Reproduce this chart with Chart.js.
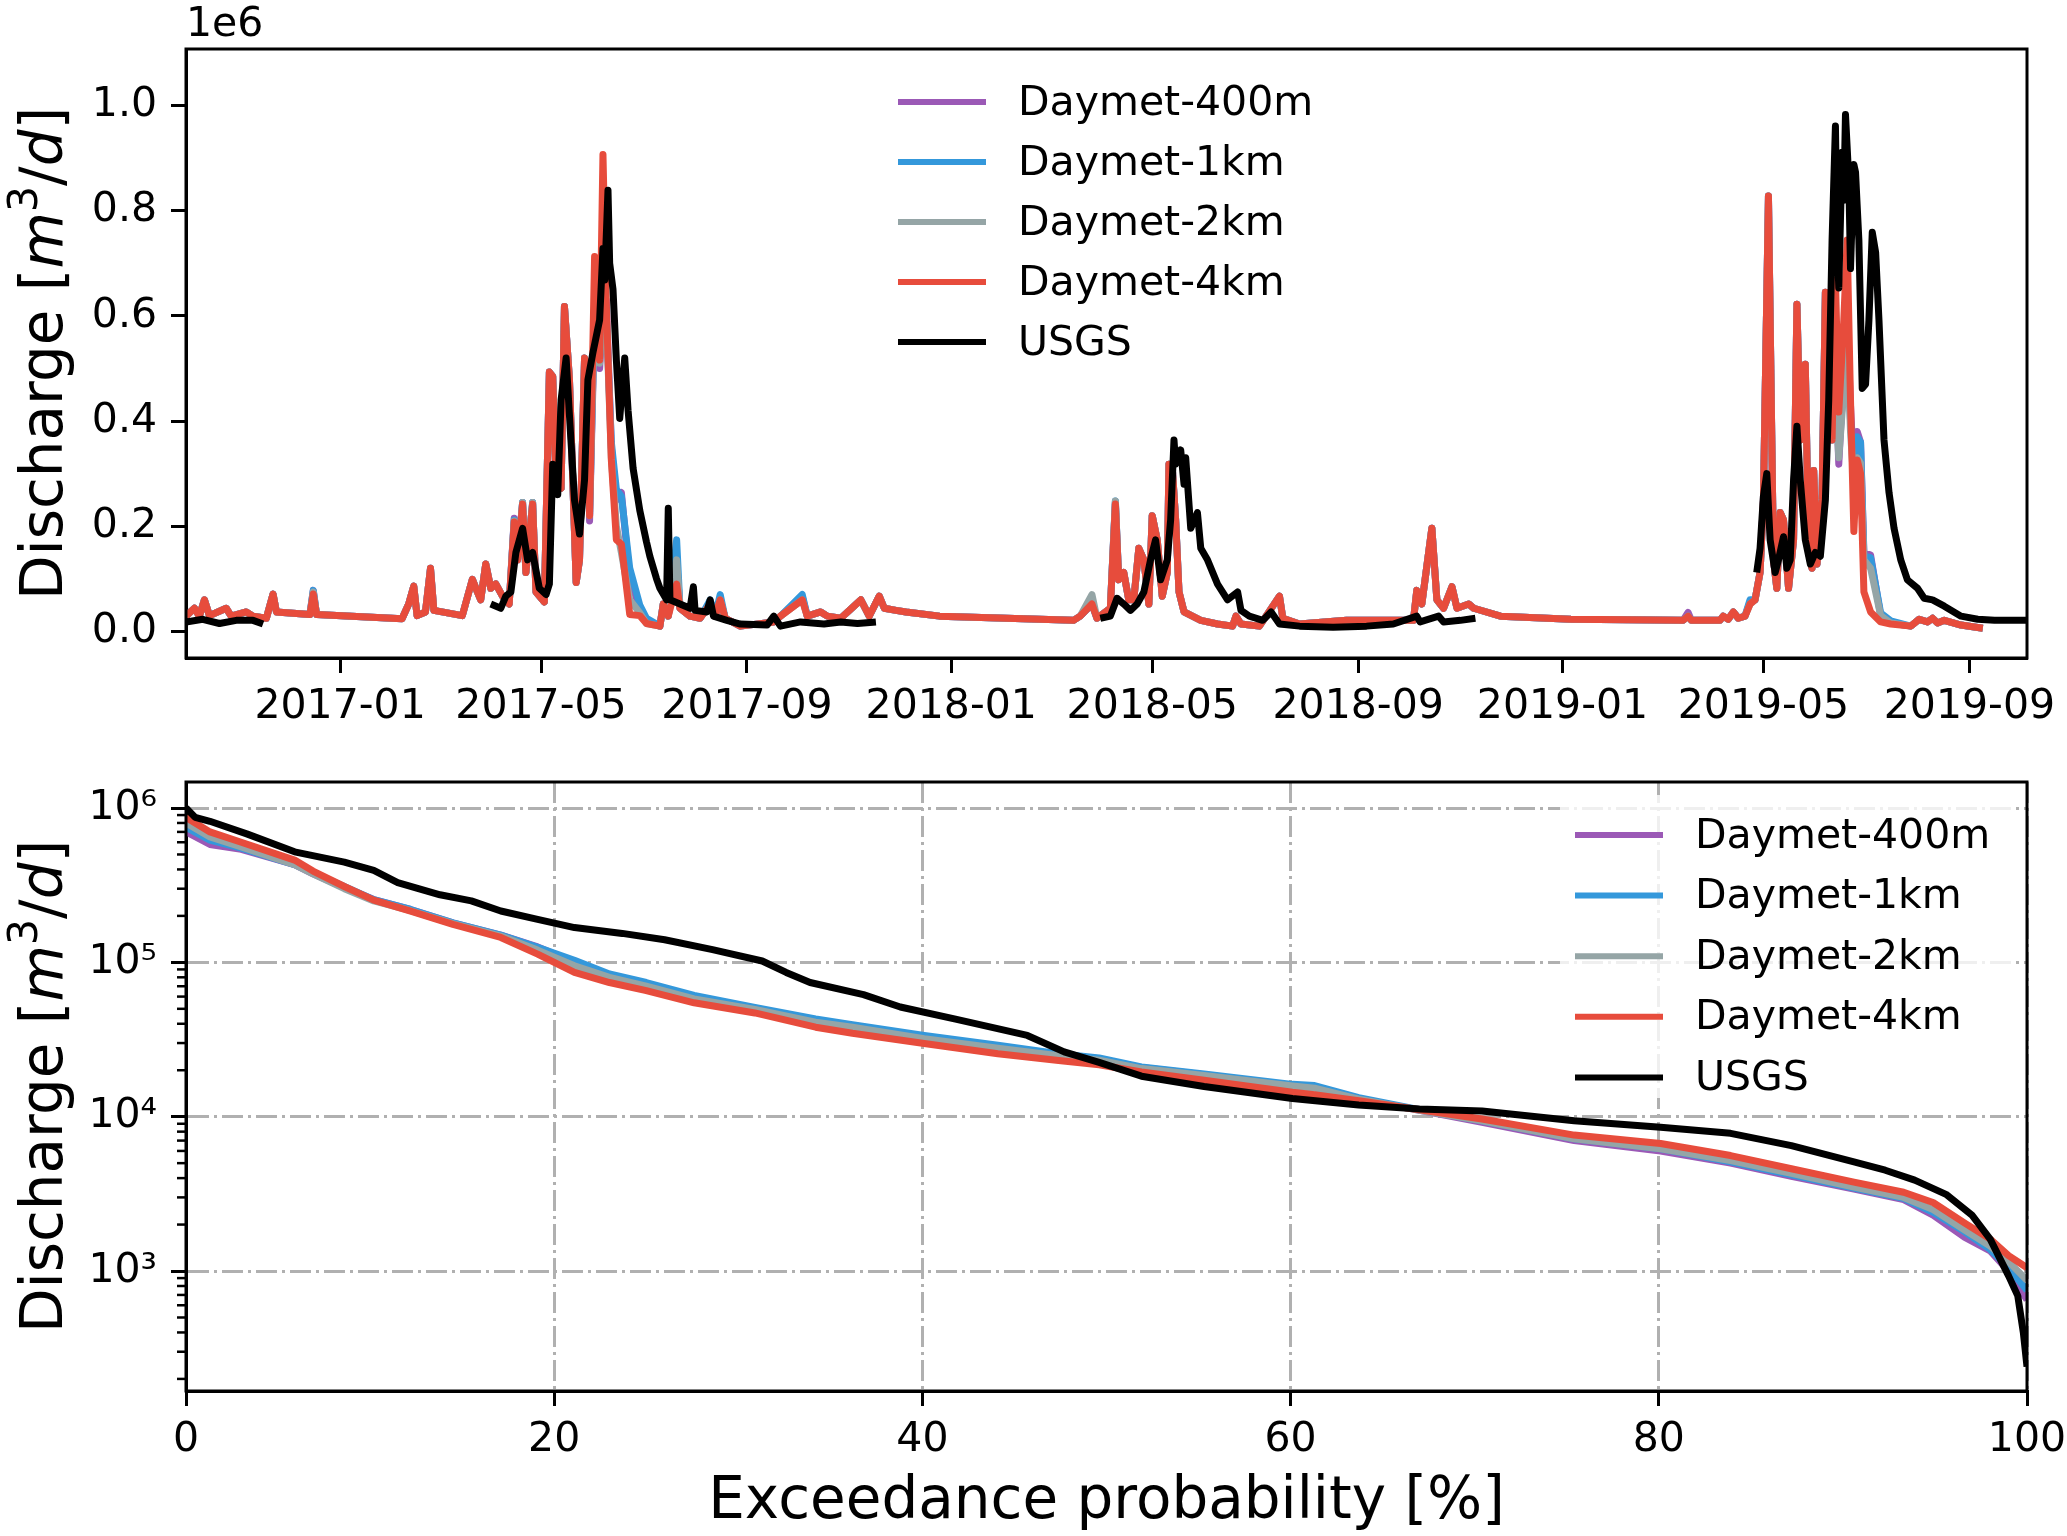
<!DOCTYPE html>
<html>
<head>
<meta charset="utf-8">
<script src="https://cdn.jsdelivr.net/npm/chart.js@4.4.1/dist/chart.umd.min.js"></script>
<style>
    html, body { margin: 0; padding: 0; background: #fff; }
    #page { position: relative; width: 2067px; height: 1536px; }
    canvas { position: absolute; left: 0; }
</style>
</head>
<body>
<div id="page">
    <canvas id="hydrograph" width="2067" height="740" style="top:0px"></canvas>
    <canvas id="durationCurve" width="2067" height="796" style="top:740px"></canvas>
</div>
<script>
const series_names = ["Daymet-400m", "Daymet-1km", "Daymet-2km", "Daymet-4km", "USGS"];
const series_colors = ["#9b59b6", "#3498db", "#95a5a6", "#e74c3c", "#000000"];

// top panel: x = days since 2016-10-01, discharge in units of 1e6 m3/d
const start_date = Date.UTC(2016, 9, 1);
const date_ticks = ["2017-01", "2017-05", "2017-09", "2018-01", "2018-05",
    "2018-09", "2019-01", "2019-05", "2019-09"];
const q_ticks = [0, 0.2, 0.4, 0.6, 0.8, 1.0];

const daymet_day = [
    0, 5, 8, 11, 14, 24, 27, 36, 40, 48,
    52, 54, 74, 76, 78, 129, 133, 136, 138, 143,
    146, 148, 165, 171, 174, 176, 179, 182, 185, 189,
    193, 196, 198, 201, 203, 207, 209, 214, 217, 219,
    221, 224, 226, 229, 233, 235, 238, 240, 241, 244,
    247, 249, 251, 254, 257, 260, 265, 271, 275, 283,
    285, 288, 293, 295, 301, 307, 313, 316, 319, 322,
    331, 351, 355, 368, 371, 379, 383, 391, 403, 408,
    414, 417, 424, 430, 450, 490, 530, 534, 541, 544,
    552, 555, 557, 560, 563, 566, 569, 572, 575, 577,
    580, 583, 586, 587, 589, 591, 593, 596, 606, 616,
    625, 627, 630, 641, 653, 655, 665, 693, 709, 733,
    735, 738, 744, 747, 751, 756, 759, 766, 769, 785,
    827, 894, 897, 899, 916, 918, 921, 924, 927, 931,
    934, 937, 940, 942, 945, 948, 950, 952, 954, 957,
    960, 962, 964, 967, 969, 971, 972, 974, 977, 979,
    981, 983, 985, 987, 990, 992, 994, 996, 998, 1000,
    1002, 1006, 1012, 1018, 1030, 1035, 1040, 1043, 1046, 1050,
    1060, 1073,
];

const daymet_400m = [
    0.029, 0.044, 0.029, 0.060, 0.030, 0.044, 0.029, 0.037, 0.029, 0.025,
    0.071, 0.037, 0.032, 0.078, 0.032, 0.024, 0.052, 0.086, 0.030, 0.037,
    0.120, 0.040, 0.030, 0.099, 0.075, 0.060, 0.128, 0.082, 0.090, 0.067,
    0.052, 0.215, 0.136, 0.245, 0.112, 0.245, 0.075, 0.056, 0.493, 0.485,
    0.280, 0.272, 0.618, 0.478, 0.093, 0.136, 0.520, 0.490, 0.210, 0.600,
    0.500, 0.600, 0.630, 0.350, 0.250, 0.264, 0.100, 0.045, 0.020, 0.010,
    0.052, 0.029, 0.130, 0.044, 0.029, 0.025, 0.052, 0.029, 0.060, 0.025,
    0.010, 0.018, 0.029, 0.066, 0.029, 0.037, 0.029, 0.025, 0.060, 0.029,
    0.067, 0.044, 0.040, 0.037, 0.029, 0.025, 0.021, 0.029, 0.052, 0.025,
    0.044, 0.245, 0.098, 0.112, 0.060, 0.060, 0.158, 0.136, 0.052, 0.220,
    0.174, 0.067, 0.112, 0.318, 0.310, 0.212, 0.075, 0.037, 0.021, 0.014,
    0.010, 0.029, 0.014, 0.010, 0.067, 0.025, 0.014, 0.021, 0.021, 0.021,
    0.078, 0.052, 0.196, 0.060, 0.044, 0.085, 0.044, 0.052, 0.044, 0.029,
    0.023, 0.021, 0.036, 0.021, 0.021, 0.029, 0.023, 0.037, 0.025, 0.029,
    0.056, 0.060, 0.112, 0.250, 0.828, 0.136, 0.082, 0.226, 0.212, 0.082,
    0.174, 0.622, 0.364, 0.508, 0.150, 0.120, 0.306, 0.128, 0.250, 0.645,
    0.516, 0.364, 0.500, 0.318, 0.500, 0.600, 0.430, 0.300, 0.380, 0.360,
    0.150, 0.145, 0.030, 0.016, 0.010, 0.023, 0.018, 0.025, 0.016, 0.021,
    0.012, 0.006,
];

const daymet_1km = [
    0.029, 0.044, 0.029, 0.060, 0.030, 0.044, 0.029, 0.037, 0.029, 0.025,
    0.071, 0.037, 0.032, 0.078, 0.032, 0.024, 0.052, 0.086, 0.030, 0.037,
    0.120, 0.040, 0.030, 0.099, 0.075, 0.060, 0.128, 0.082, 0.090, 0.067,
    0.052, 0.212, 0.136, 0.245, 0.112, 0.245, 0.075, 0.056, 0.493, 0.485,
    0.280, 0.272, 0.618, 0.478, 0.093, 0.136, 0.520, 0.490, 0.220, 0.620,
    0.520, 0.630, 0.600, 0.360, 0.270, 0.257, 0.120, 0.050, 0.025, 0.010,
    0.052, 0.029, 0.174, 0.044, 0.029, 0.025, 0.060, 0.029, 0.070, 0.025,
    0.010, 0.018, 0.029, 0.070, 0.029, 0.037, 0.029, 0.025, 0.060, 0.029,
    0.067, 0.044, 0.040, 0.037, 0.029, 0.025, 0.021, 0.029, 0.052, 0.025,
    0.044, 0.248, 0.098, 0.112, 0.060, 0.060, 0.158, 0.136, 0.052, 0.220,
    0.174, 0.067, 0.112, 0.318, 0.310, 0.212, 0.075, 0.037, 0.021, 0.014,
    0.010, 0.029, 0.014, 0.010, 0.067, 0.025, 0.014, 0.021, 0.021, 0.021,
    0.078, 0.052, 0.196, 0.060, 0.044, 0.085, 0.044, 0.052, 0.044, 0.029,
    0.023, 0.021, 0.029, 0.021, 0.021, 0.029, 0.023, 0.037, 0.025, 0.029,
    0.060, 0.060, 0.112, 0.250, 0.828, 0.136, 0.082, 0.226, 0.212, 0.082,
    0.174, 0.622, 0.364, 0.508, 0.150, 0.120, 0.306, 0.128, 0.250, 0.645,
    0.516, 0.364, 0.460, 0.350, 0.470, 0.570, 0.400, 0.320, 0.370, 0.360,
    0.143, 0.140, 0.035, 0.020, 0.010, 0.023, 0.018, 0.025, 0.016, 0.021,
    0.012, 0.006,
];

const daymet_2km = [
    0.029, 0.044, 0.029, 0.060, 0.030, 0.044, 0.029, 0.037, 0.029, 0.025,
    0.071, 0.037, 0.032, 0.075, 0.032, 0.024, 0.052, 0.086, 0.030, 0.037,
    0.120, 0.040, 0.030, 0.099, 0.075, 0.060, 0.128, 0.082, 0.090, 0.067,
    0.052, 0.210, 0.136, 0.245, 0.112, 0.245, 0.075, 0.056, 0.493, 0.485,
    0.280, 0.272, 0.618, 0.478, 0.093, 0.136, 0.520, 0.490, 0.220, 0.620,
    0.510, 0.620, 0.600, 0.330, 0.200, 0.150, 0.060, 0.035, 0.015, 0.010,
    0.052, 0.029, 0.136, 0.044, 0.029, 0.025, 0.052, 0.029, 0.060, 0.025,
    0.010, 0.018, 0.029, 0.060, 0.029, 0.037, 0.029, 0.025, 0.060, 0.029,
    0.067, 0.044, 0.040, 0.037, 0.029, 0.025, 0.021, 0.029, 0.070, 0.025,
    0.044, 0.248, 0.098, 0.112, 0.060, 0.060, 0.158, 0.136, 0.052, 0.220,
    0.174, 0.067, 0.112, 0.318, 0.310, 0.212, 0.075, 0.037, 0.021, 0.014,
    0.010, 0.029, 0.014, 0.010, 0.067, 0.025, 0.014, 0.021, 0.021, 0.021,
    0.078, 0.052, 0.196, 0.060, 0.044, 0.085, 0.044, 0.052, 0.044, 0.029,
    0.023, 0.021, 0.029, 0.021, 0.021, 0.029, 0.023, 0.037, 0.025, 0.029,
    0.052, 0.060, 0.112, 0.250, 0.828, 0.136, 0.082, 0.226, 0.212, 0.082,
    0.174, 0.622, 0.364, 0.508, 0.150, 0.120, 0.306, 0.128, 0.250, 0.645,
    0.516, 0.364, 0.450, 0.330, 0.460, 0.560, 0.380, 0.280, 0.330, 0.320,
    0.136, 0.120, 0.030, 0.016, 0.010, 0.023, 0.018, 0.025, 0.016, 0.021,
    0.012, 0.006,
];

const daymet_4km = [
    0.029, 0.044, 0.029, 0.060, 0.030, 0.044, 0.029, 0.037, 0.029, 0.025,
    0.071, 0.037, 0.032, 0.071, 0.032, 0.024, 0.052, 0.086, 0.030, 0.037,
    0.120, 0.040, 0.030, 0.099, 0.075, 0.060, 0.128, 0.082, 0.090, 0.067,
    0.052, 0.208, 0.136, 0.242, 0.112, 0.242, 0.075, 0.056, 0.493, 0.485,
    0.280, 0.272, 0.618, 0.478, 0.093, 0.136, 0.520, 0.490, 0.220, 0.713,
    0.516, 0.907, 0.622, 0.326, 0.174, 0.166, 0.032, 0.030, 0.015, 0.010,
    0.052, 0.029, 0.090, 0.044, 0.029, 0.025, 0.052, 0.029, 0.060, 0.025,
    0.010, 0.018, 0.029, 0.060, 0.029, 0.037, 0.029, 0.025, 0.060, 0.029,
    0.067, 0.044, 0.040, 0.037, 0.029, 0.025, 0.021, 0.029, 0.052, 0.025,
    0.044, 0.242, 0.098, 0.112, 0.060, 0.060, 0.158, 0.136, 0.052, 0.220,
    0.174, 0.067, 0.112, 0.318, 0.310, 0.212, 0.075, 0.037, 0.021, 0.014,
    0.010, 0.029, 0.014, 0.010, 0.067, 0.025, 0.014, 0.021, 0.021, 0.021,
    0.078, 0.052, 0.196, 0.060, 0.044, 0.085, 0.044, 0.052, 0.044, 0.029,
    0.023, 0.021, 0.029, 0.021, 0.021, 0.029, 0.023, 0.037, 0.025, 0.029,
    0.052, 0.060, 0.112, 0.250, 0.828, 0.136, 0.082, 0.226, 0.212, 0.082,
    0.174, 0.622, 0.364, 0.508, 0.150, 0.120, 0.306, 0.128, 0.250, 0.645,
    0.516, 0.364, 0.668, 0.417, 0.592, 0.744, 0.440, 0.190, 0.326, 0.300,
    0.075, 0.037, 0.018, 0.014, 0.010, 0.023, 0.018, 0.025, 0.016, 0.021,
    0.012, 0.006,
];

// gauge record has gaps (null)
const usgs_day = [
    0, 10, 20, 30, 40, 46, 47, 182, 188, 191,
    194, 197, 201, 204, 207, 211, 215, 217, 219, 222,
    224, 227, 229, 232, 235, 238, 240, 243, 247, 249,
    250, 252, 253, 255, 257, 259, 262, 264, 267, 271,
    275, 277, 281, 283, 287, 288, 289, 295, 301, 303,
    304, 311, 313, 315, 323, 331, 347, 351, 355, 367,
    381, 391, 401, 412, 413, 546, 552, 556, 560, 564,
    568, 572, 576, 579, 582, 586, 588, 590, 591, 594,
    596, 597, 600, 604, 606, 610, 616, 622, 628, 630,
    635, 643, 648, 653, 665, 685, 705, 721, 735, 737,
    748, 751, 761, 770, 771, 938, 940, 942, 944, 946,
    949, 951, 954, 956, 958, 960, 962, 964, 967, 970,
    973, 976, 979, 981, 983, 985, 986, 987, 989, 990,
    991, 993, 994, 996, 997, 999, 1001, 1003, 1005, 1007,
    1009, 1011, 1014, 1017, 1020, 1024, 1028, 1034, 1038, 1043,
    1050, 1060, 1070, 1080, 1099,
];

const usgs_q = [
    0.018, 0.023, 0.015, 0.021, 0.021, 0.014, null, 0.052, 0.044, 0.067,
    0.075, 0.150, 0.196, 0.136, 0.150, 0.082, 0.070, 0.090, 0.318, 0.260,
    0.440, 0.520, 0.410, 0.250, 0.185, 0.288, 0.478, 0.530, 0.592, 0.728,
    0.668, 0.839, 0.700, 0.650, 0.516, 0.405, 0.520, 0.420, 0.310, 0.230,
    0.170, 0.143, 0.100, 0.082, 0.060, 0.234, 0.060, 0.052, 0.044, 0.085,
    0.040, 0.037, 0.060, 0.029, 0.021, 0.014, 0.012, 0.029, 0.010, 0.018,
    0.014, 0.018, 0.015, 0.018, null, 0.025, 0.029, 0.063, 0.052, 0.040,
    0.052, 0.075, 0.136, 0.174, 0.098, 0.136, 0.212, 0.364, 0.318, 0.345,
    0.280, 0.330, 0.196, 0.226, 0.158, 0.136, 0.090, 0.060, 0.075, 0.040,
    0.029, 0.021, 0.037, 0.014, 0.010, 0.008, 0.010, 0.014, 0.029, 0.018,
    0.029, 0.018, 0.021, 0.025, null, 0.112, 0.158, 0.257, 0.300, 0.174,
    0.112, 0.136, 0.180, 0.120, 0.136, 0.288, 0.390, 0.288, 0.174, 0.128,
    0.150, 0.143, 0.250, 0.440, 0.744, 0.961, 0.744, 0.653, 0.911, 0.820,
    0.983, 0.858, 0.690, 0.888, 0.873, 0.744, 0.462, 0.470, 0.592, 0.759,
    0.721, 0.592, 0.364, 0.264, 0.196, 0.136, 0.098, 0.082, 0.063, 0.060,
    0.048, 0.029, 0.023, 0.021, 0.021,
];

// bottom panel: flow duration curves, discharge in m3/d
const log_ticks = [1e3, 1e4, 1e5, 1e6];
const log_tick_labels = ["10³", "10⁴", "10⁵", "10⁶"];

const fdc_pct = [
    0, 1.3, 3.0, 5.9, 6.9, 8.6, 10.2, 12.2, 14.5, 17.1,
    19.1, 21.1, 23.0, 25.0, 27.6, 30.9, 34.2, 36.2, 40.1, 44.1,
    47.4, 49.6, 51.9, 55.3, 60.1, 61.3, 63.7, 67.0, 70.4, 75.4,
    80.1, 83.9, 87.2, 90.6, 93.3, 94.9, 96.6, 98.0, 99.0, 100,
];

const fdc_400m = [
    700000, 580000, 540000, 430000, 375000, 305000, 255000, 220000, 180000, 150000,
    126000, 100000, 82000, 72000, 60000, 50500, 42000, 39000, 33000, 28500,
    25300, 23700, 20800, 18700, 15900, 15500, 13100, 11000, 9200, 7000,
    6000, 5000, 4100, 3400, 2900, 2300, 1660, 1350, 1000, 650,
];

const fdc_1km = [
    750000, 620000, 550000, 430000, 380000, 310000, 255000, 220000, 180000, 150000,
    125000, 103000, 84000, 74000, 61000, 51000, 43000, 39500, 33600, 29000,
    25600, 24000, 21000, 18900, 16200, 15900, 13300, 11100, 9400, 7200,
    6200, 5100, 4200, 3450, 2960, 2400, 1800, 1380, 1050, 750,
];

const fdc_2km = [
    800000, 650000, 560000, 430000, 375000, 300000, 250000, 216000, 178000, 148000,
    120000, 95000, 80000, 70000, 58000, 49500, 41000, 38000, 32000, 27800,
    24800, 23200, 20500, 18500, 15800, 15300, 13000, 11000, 9400, 7200,
    6200, 5200, 4300, 3500, 3000, 2500, 1850, 1450, 1150, 870,
];

const fdc_4km = [
    870000, 700000, 600000, 460000, 390000, 310000, 253000, 215000, 176000, 145000,
    113000, 86000, 74000, 65600, 54700, 47000, 38000, 34700, 29800, 25600,
    23100, 21700, 19500, 17200, 14400, 13900, 12700, 11100, 9660, 7600,
    6700, 5600, 4600, 3770, 3240, 2780, 2050, 1610, 1260, 1050,
];

const usgs_fdc_pct = [
    0, 0.5, 1.3, 3.3, 5.9, 8.6, 10.2, 11.5, 13.8, 15.5,
    17.1, 19.1, 21.1, 23.7, 26.0, 28.6, 31.3, 32.6, 33.9, 36.8,
    38.8, 41.8, 45.7, 47.7, 49.6, 51.9, 55.3, 60.1, 63.7, 67.0,
    70.4, 75.4, 80.1, 83.9, 87.2, 90.6, 92.3, 93.9, 95.6, 97.0,
    98.0, 99.0, 99.5, 99.8, 100,
];

const usgs_fdc_q = [
    1000000, 870000, 820000, 680000, 520000, 446000, 395000, 329000, 274000, 250000,
    215000, 190000, 168000, 154000, 140000, 121000, 102000, 86000, 74000, 61800,
    51400, 42900, 33600, 26300, 22500, 18300, 15700, 13100, 11900, 11200,
    10900, 9400, 8550, 7800, 6500, 5100, 4500, 3880, 3140, 2310,
    1610, 930, 690, 400, 240,
];

Chart.defaults.font.family = "'DejaVu Sans', sans-serif";
Chart.defaults.color = "#000";

function toPoints(xs, ys) {
    return xs.map((x, i) => ({ x: x, y: ys[i] }));
}

function dayOfTick(label) {
    const parts = label.split("-").map(Number);
    return (Date.UTC(parts[0], parts[1] - 1, 1) - start_date) / 86400000;
}

function lineDataset(index, xs, ys) {
    return {
        label: series_names[index],
        data: toPoints(xs, ys),
        borderColor: series_colors[index],
        backgroundColor: series_colors[index],
        borderWidth: 7,
        pointRadius: 0,
        tension: 0,
        borderJoinStyle: "round",
        // later series sit on top, like the plotting order
        order: series_names.length - 1 - index,
    };
}

// keep the plot box fixed: the edge tick labels just hang into the margin
function fixHeight(height) {
    return (scale) => {
        scale.height = height;
        scale.paddingLeft = 0;
        scale.paddingRight = 0;
    };
}

const frame_plugin = {
    id: "frame",
    afterDraw(chart) {
        const { ctx, chartArea } = chart;
        ctx.save();
        ctx.strokeStyle = "#000";
        ctx.lineWidth = 3;
        ctx.strokeRect(chartArea.left, chartArea.top,
            chartArea.right - chartArea.left, chartArea.bottom - chartArea.top);
        ctx.restore();
    },
};

// "Discharge [m^3/d]" with italic m and d, rotated along the y axis
const y_title_plugin = {
    id: "yTitle",
    afterDraw(chart) {
        const ctx = chart.ctx;
        const area = chart.chartArea;
        const normal = "58px 'DejaVu Sans'";
        const italic = "oblique 58px 'DejaVu Sans'";
        const parts = [
            { text: "Discharge [", font: normal, rise: 0 },
            { text: "m", font: italic, rise: 0 },
            { text: "3", font: "41px 'DejaVu Sans'", rise: 25 },
            { text: "/", font: normal, rise: 0 },
            { text: "d", font: italic, rise: 0 },
            { text: "]", font: normal, rise: 0 },
        ];
        ctx.save();
        let total = 0;
        parts.forEach((p) => {
            ctx.font = p.font;
            p.width = ctx.measureText(p.text).width;
            total += p.width;
        });
        ctx.translate(62, (area.top + area.bottom) / 2);
        ctx.rotate(-Math.PI / 2);
        ctx.fillStyle = "#000";
        ctx.textBaseline = "alphabetic";
        ctx.textAlign = "left";
        let x = -total / 2;
        parts.forEach((p) => {
            ctx.font = p.font;
            ctx.fillText(p.text, x, -p.rise);
            x += p.width;
        });
        ctx.restore();
    },
};

function insideLegend(box, rows) {
    return {
        id: "insideLegend",
        afterDraw(chart) {
            const ctx = chart.ctx;
            ctx.save();
            ctx.fillStyle = "rgba(255,255,255,0.8)";
            ctx.fillRect(box.x, box.y, box.w, box.h);
            ctx.font = "41px 'DejaVu Sans'";
            ctx.textBaseline = "middle";
            ctx.textAlign = "left";
            chart.data.datasets.forEach((ds, i) => {
                const y = rows.y0 + i * rows.dy;
                ctx.strokeStyle = ds.borderColor;
                ctx.lineWidth = 6;
                ctx.beginPath();
                ctx.moveTo(rows.x0, y);
                ctx.lineTo(rows.x1, y);
                ctx.stroke();
                ctx.fillStyle = "#000";
                ctx.fillText(ds.label, rows.tx, y + 2);
            });
            ctx.restore();
        },
    };
}

const offset_text_plugin = {
    id: "offsetText",
    afterDraw(chart) {
        const ctx = chart.ctx;
        ctx.save();
        ctx.font = "41px 'DejaVu Sans'";
        ctx.fillStyle = "#000";
        ctx.textAlign = "left";
        ctx.textBaseline = "alphabetic";
        ctx.fillText("1e6", chart.chartArea.left, 36);
        ctx.restore();
    },
};

const minor_ticks_plugin = {
    id: "minorTicks",
    afterDraw(chart) {
        const scale = chart.scales.y;
        const ctx = chart.ctx;
        ctx.save();
        ctx.strokeStyle = "#000";
        ctx.lineWidth = 2.5;
        for (let e = 2; e <= 6; e++) {
            for (let k = 2; k <= 9; k++) {
                const v = k * Math.pow(10, e);
                if (v < scale.min || v > scale.max) continue;
                const y = scale.getPixelForValue(v);
                ctx.beginPath();
                ctx.moveTo(scale.right - 9, y);
                ctx.lineTo(scale.right, y);
                ctx.stroke();
            }
        }
        ctx.restore();
    },
};

const tick_grid = {
    drawOnChartArea: false,
    tickLength: 15,
    tickWidth: 3,
    tickColor: "#000",
};
const axis_border = { color: "#000", width: 3 };

function drawHydrograph() {
    new Chart(document.getElementById("hydrograph"), {
        type: "line",
        data: {
            datasets: [
                lineDataset(0, daymet_day, daymet_400m),
                lineDataset(1, daymet_day, daymet_1km),
                lineDataset(2, daymet_day, daymet_2km),
                lineDataset(3, daymet_day, daymet_4km),
                lineDataset(4, usgs_day, usgs_q),
            ],
        },
        options: {
            responsive: false,
            animation: false,
            devicePixelRatio: 1,
            layout: { padding: { top: 49, right: 40, left: 0, bottom: 0 } },
            plugins: { legend: { display: false }, tooltip: { enabled: false } },
            scales: {
                x: {
                    type: "linear",
                    min: 0,
                    max: 1099.4,
                    afterBuildTicks: (scale) => {
                        scale.ticks = date_ticks.map((t) => ({ value: dayOfTick(t) }));
                    },
                    afterFit: fixHeight(82),
                    ticks: {
                        callback: (value, i) => date_ticks[i],
                        font: { size: 41 },
                        padding: 10,
                        maxRotation: 0,
                        autoSkip: false,
                    },
                    grid: tick_grid,
                    border: axis_border,
                },
                y: {
                    type: "linear",
                    min: -0.0506,
                    max: 1.1074,
                    afterBuildTicks: (scale) => {
                        scale.ticks = q_ticks.map((v) => ({ value: v }));
                    },
                    afterFit: (scale) => { scale.width = 186; },
                    ticks: {
                        callback: (value) => value.toFixed(1),
                        font: { size: 41 },
                        padding: 14,
                    },
                    grid: tick_grid,
                    border: axis_border,
                },
            },
        },
        plugins: [
            frame_plugin,
            offset_text_plugin,
            y_title_plugin,
            insideLegend(
                { x: 880, y: 62, w: 450, h: 318 },
                { x0: 898, x1: 986, tx: 1018, y0: 102, dy: 60 },
            ),
        ],
    });
}

function drawDurationCurve() {
    const dash_grid = {
        color: "#b0b0b0",
        lineWidth: 3,
        tickLength: 15,
        tickWidth: 3,
        tickColor: "#000",
    };
    const dash_border = { color: "#000", width: 3, dash: [21, 5, 3, 5] };

    new Chart(document.getElementById("durationCurve"), {
        type: "line",
        data: {
            datasets: [
                lineDataset(0, fdc_pct, fdc_400m),
                lineDataset(1, fdc_pct, fdc_1km),
                lineDataset(2, fdc_pct, fdc_2km),
                lineDataset(3, fdc_pct, fdc_4km),
                lineDataset(4, usgs_fdc_pct, usgs_fdc_q),
            ],
        },
        options: {
            responsive: false,
            animation: false,
            devicePixelRatio: 1,
            layout: { padding: { top: 42, right: 40, left: 0, bottom: 0 } },
            plugins: { legend: { display: false }, tooltip: { enabled: false } },
            scales: {
                x: {
                    type: "linear",
                    min: 0,
                    max: 100,
                    afterFit: fixHeight(145),
                    ticks: {
                        stepSize: 20,
                        font: { size: 41 },
                        padding: 10,
                        maxRotation: 0,
                    },
                    grid: dash_grid,
                    border: dash_border,
                    title: {
                        display: true,
                        text: "Exceedance probability [%]",
                        font: { size: 58, lineHeight: 1.14 },
                        padding: { top: 0, bottom: 0 },
                    },
                },
                y: {
                    type: "logarithmic",
                    min: 167,
                    max: 1.474e6,
                    afterBuildTicks: (scale) => {
                        scale.ticks = log_ticks.map((v) => ({ value: v }));
                    },
                    afterFit: (scale) => { scale.width = 186; },
                    ticks: {
                        callback: (value, i) => log_tick_labels[i],
                        font: { size: 41 },
                        padding: 14,
                    },
                    grid: dash_grid,
                    border: dash_border,
                },
            },
        },
        plugins: [
            frame_plugin,
            minor_ticks_plugin,
            y_title_plugin,
            insideLegend(
                { x: 1560, y: 55, w: 455, h: 303 },
                { x0: 1575, x1: 1663, tx: 1695, y0: 95, dy: 60.6 },
            ),
        ],
    });
}

drawHydrograph();
drawDurationCurve();
</script>
</body>
</html>
